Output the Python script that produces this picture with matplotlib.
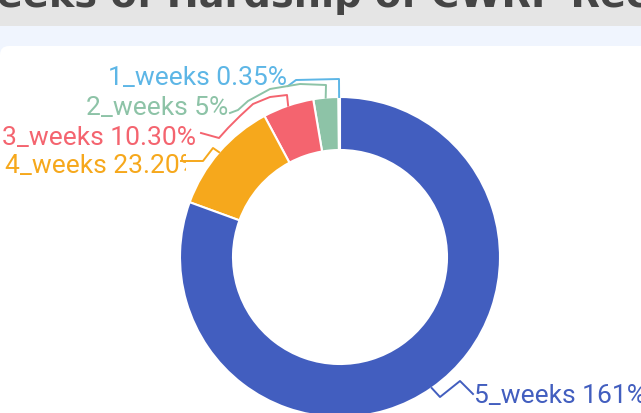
import matplotlib.pyplot as plt
from matplotlib.patches import FancyBboxPatch, Rectangle
from matplotlib.transforms import Bbox, TransformedBbox
import numpy as np

W, H = 641, 413

# chart data
labels = ["1_weeks", "2_weeks", "3_weeks", "4_weeks", "5_weeks"]
values = [0.35, 5, 10.30, 23.20, 161]
value_text = ["0.35%", "5%", "10.30%", "23.20%", "161%"]
colors = ["#5DB6E6", "#8DC3A7", "#F4646F", "#F6A81C", "#425EBF"]
title = "Weeks of Hardship of CWRF Recipients"

# layout, in screen pixels (y grows downwards)
center = (340, 257)
r_out, r_in = 160, 107
label_pos = [(287, 85, "right"), (228, 115, "right"), (196, 145, "right"),
             (5, 173, "left"), (474, 403, "left")]
leader_paths = [
    [(339, 79), (296, 80), (288, 86)],
    [(326, 85), (300, 84), (270, 89), (248, 101), (238, 110), (230, 113)],
    [(287, 95), (270, 97), (253, 104), (240, 116), (228, 128), (219, 138), (201, 133)],
    [(213, 148), (203, 161), (181, 161)],
    [(440, 397), (460, 381), (473, 394)],
]


def sy(y):
    return H - y


fig = plt.figure(figsize=(W / 100, H / 100), dpi=100)
ax = fig.add_axes([0, 0, 1, 1])

# page background bands
ax.add_patch(Rectangle((0, sy(26)), W, 26, facecolor="#E5E5E5", edgecolor="none", zorder=0))
ax.add_patch(Rectangle((0, 0), W, sy(26), facecolor="#F0F5FE", edgecolor="none", zorder=0))
ax.add_patch(FancyBboxPatch((0, -60), W + 60, sy(46) + 60,
                            boxstyle="round,pad=0,rounding_size=9",
                            facecolor="white", edgecolor="none", zorder=0.5))

ax.text(-44, sy(7), title, fontsize=27.5, fontweight="bold", family="DejaVu Sans",
        color="#454545", ha="left", va="baseline", zorder=1)

wedges, _ = ax.pie(values, colors=colors, startangle=90, counterclock=True,
                   center=(center[0], sy(center[1])), radius=r_out,
                   wedgeprops=dict(width=r_out - r_in, edgecolor="white", linewidth=1.5))
for w in wedges:
    w.set_zorder(2)

for i, w in enumerate(wedges):
    mid = np.deg2rad((w.theta1 + w.theta2) / 2)
    x0 = center[0] + r_out * np.cos(mid)
    y0 = sy(center[1]) + r_out * np.sin(mid)
    xs = [x0] + [p[0] for p in leader_paths[i]]
    ys = [y0] + [sy(p[1]) for p in leader_paths[i]]
    ax.plot(xs, ys, color=colors[i], lw=1.4, zorder=3, solid_joinstyle="round")

    lx, ly, ha = label_pos[i]
    t = ax.text(lx, sy(ly), f"{labels[i]} {value_text[i]}", color=colors[i],
                fontsize=19, family="Roboto", ha=ha, va="baseline", zorder=4)
    if labels[i] == "4_weeks":
        # the % sign is hidden behind the leader line in the original
        t.set_clip_on(True)
        t.set_clip_box(TransformedBbox(Bbox([[0, 0], [186, H]]), ax.transData))

ax.set_xlim(0, W)
ax.set_ylim(0, H)
ax.set_aspect("equal")
ax.axis("off")

fig.savefig("out.png", dpi=100)
